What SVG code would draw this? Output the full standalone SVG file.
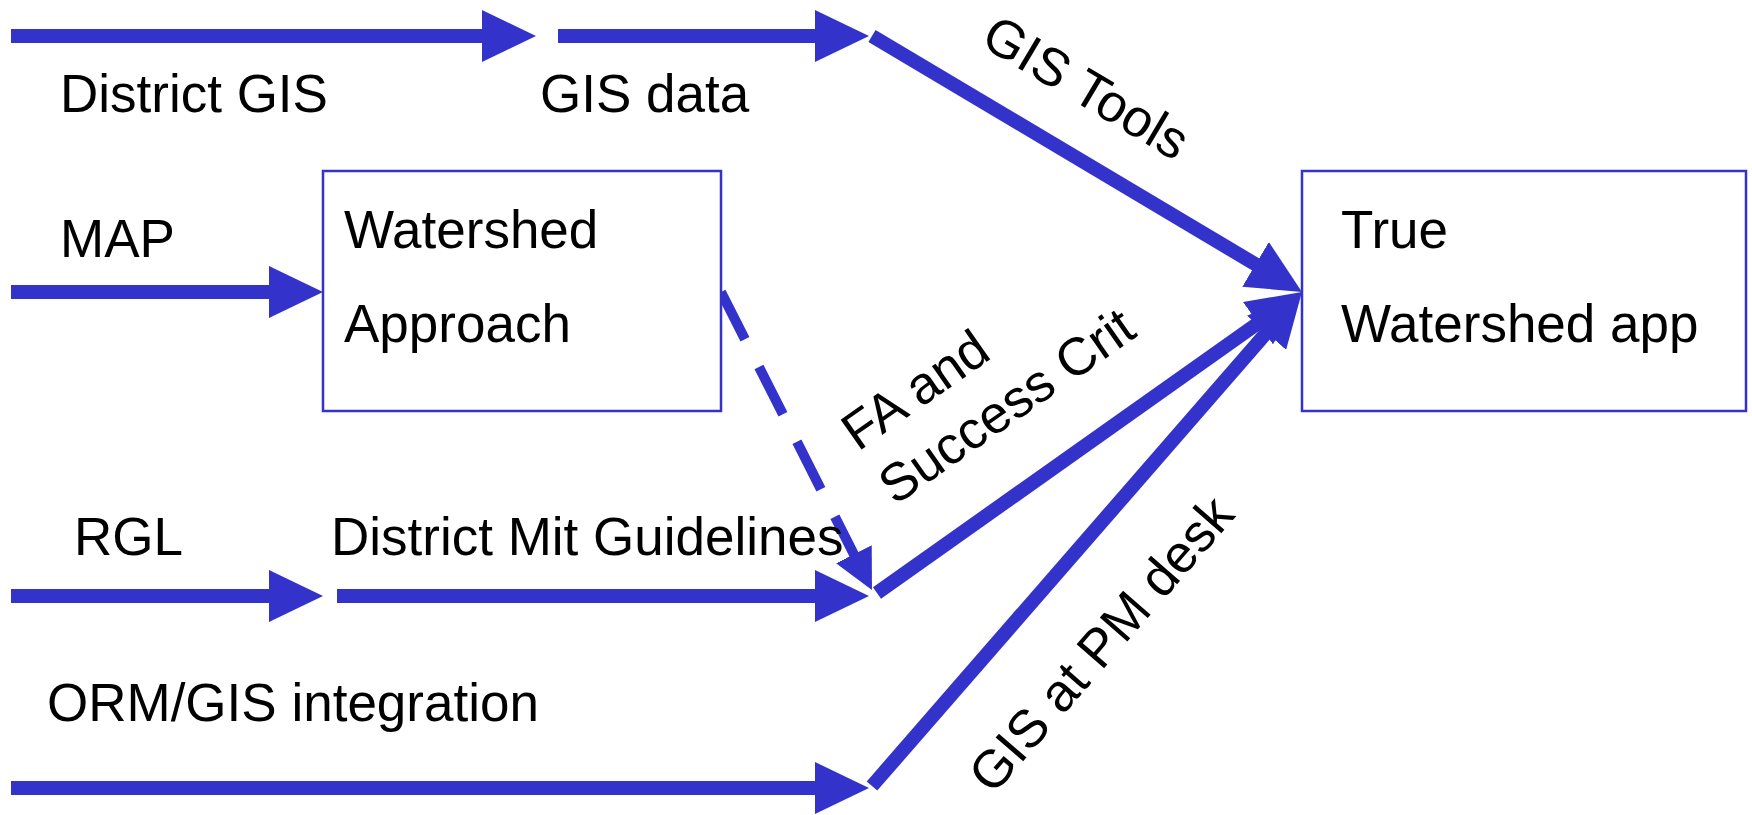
<svg xmlns="http://www.w3.org/2000/svg" width="1752" height="815" viewBox="0 0 1752 815">
<style>
.ln{stroke:#3333CC;stroke-width:14;fill:none;stroke-linecap:butt}
.dash{stroke:#3333CC;stroke-width:10;fill:none;stroke-dasharray:53 31}
.box{fill:#fff;stroke:#3333CC;stroke-width:2.5}
text{font-family:"Liberation Sans",Arial,sans-serif;font-size:53px;fill:#000}
</style>
<defs>
<marker id="ah" markerUnits="userSpaceOnUse" markerWidth="54" markerHeight="52" refX="14" refY="26" orient="auto"><path d="M0,0 L54,26 L0,52 z" fill="#3333CC"/></marker>
<marker id="ahs" markerUnits="userSpaceOnUse" markerWidth="40" markerHeight="40" refX="10" refY="20" orient="auto"><path d="M0,0 L40,20 L0,40 z" fill="#3333CC"/></marker>
</defs>
<rect width="1752" height="815" fill="#fff"/>
<g id="connectors">
<line class="ln" x1="11" y1="36" x2="496" y2="36" marker-end="url(#ah)"/>
<line class="ln" x1="558" y1="36" x2="829" y2="36" marker-end="url(#ah)"/>
<line class="ln" x1="11" y1="292" x2="283" y2="292" marker-end="url(#ah)"/>
<line class="ln" x1="11" y1="596" x2="283" y2="596" marker-end="url(#ah)"/>
<line class="ln" x1="337" y1="596" x2="829" y2="596" marker-end="url(#ah)"/>
<line class="ln" x1="11" y1="788" x2="829" y2="788" marker-end="url(#ah)"/>
<line class="ln" x1="872" y1="36" x2="1267.6" y2="271.5" marker-end="url(#ah)"/>
<line class="ln" x1="877" y1="593" x2="1269.4" y2="315.1" marker-end="url(#ah)"/>
<line class="ln" x1="872" y1="786" x2="1275.7" y2="322.2" marker-end="url(#ah)"/>
<line class="dash" x1="721" y1="292" x2="858.4" y2="563.2" marker-end="url(#ahs)"/>
</g>
<g id="labels">
<text x="60" y="112">District GIS</text>
<text x="540" y="112">GIS data</text>
<text x="60" y="257">MAP</text>
<text x="74" y="555">RGL</text>
<text x="331" y="555">District Mit Guidelines</text>
<text x="47" y="721">ORM/GIS integration</text>
<text transform="translate(1077,103) rotate(30.7)" text-anchor="middle">GIS Tools</text>
<text transform="translate(858,452) rotate(-35)">FA and</text>
<text transform="translate(895,506) rotate(-35)">Success Crit</text>
<text transform="translate(993,796) rotate(-49)">GIS at PM desk</text>
</g>
<g id="watershed-approach">
<rect class="box" x="323" y="171" width="398" height="240"/>
<text x="344" y="248">Watershed</text>
<text x="344" y="342">Approach</text>
</g>
<g id="true-watershed-app">
<rect class="box" x="1302" y="171" width="444" height="240"/>
<text x="1341" y="248">True</text>
<text x="1341" y="342">Watershed app</text>
</g>
</svg>
